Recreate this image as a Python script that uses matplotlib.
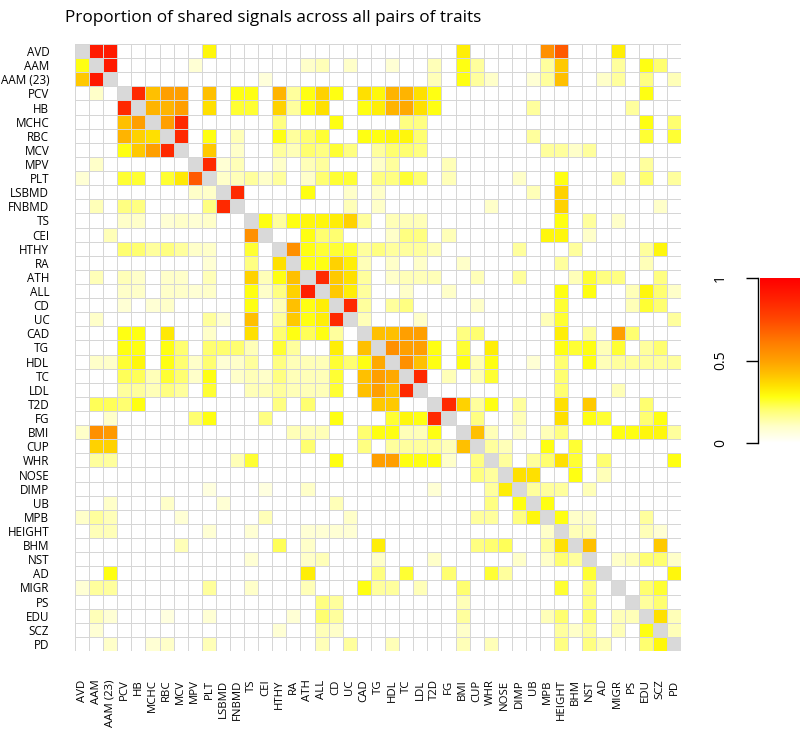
import numpy as np
import matplotlib
matplotlib.use("Agg")
import matplotlib.pyplot as plt
from matplotlib.colors import LinearSegmentedColormap

plt.rcParams["font.family"] = ["Open Sans", "DejaVu Sans"]

traits = ["AVD", "AAM", "AAM (23)", "PCV", "HB", "MCHC", "RBC", "MCV", "MPV", "PLT",
          "LSBMD", "FNBMD", "TS", "CEI", "HTHY", "RA", "ATH", "ALL", "CD", "UC",
          "CAD", "TG", "HDL", "TC", "LDL", "T2D", "FG", "BMI", "CUP", "WHR",
          "NOSE", "DIMP", "UB", "MPB", "HEIGHT", "BHM", "NST", "AD", "MIGR", "PS",
          "EDU", "SCZ", "PD"]

# non-zero proportions per row: {column index: value}
row_values = [
    {1:.9, 2:.9, 9:.3, 27:.32, 33:.55, 34:.7, 38:.32},
    {0:.28, 2:.9, 8:.08, 16:.1, 17:.12, 19:.1, 22:.08, 25:.12, 27:.28, 28:.15, 33:.15, 34:.4, 38:.15, 40:.28, 41:.2},
    {0:.4, 1:.9, 13:.07, 25:.12, 27:.28, 28:.15, 29:.1, 32:.08, 33:.15, 34:.42, 37:.1, 38:.15, 40:.18, 42:.12},
    {1:.1, 4:.85, 5:.42, 6:.5, 7:.5, 9:.42, 11:.28, 12:.28, 14:.45, 15:.15, 16:.28, 17:.38, 18:.28, 20:.35, 21:.3, 22:.45, 23:.45, 24:.35, 25:.28, 40:.28},
    {3:.85, 5:.45, 6:.45, 7:.5, 9:.35, 11:.25, 12:.25, 14:.38, 15:.15, 16:.28, 17:.35, 20:.28, 21:.32, 22:.45, 23:.48, 24:.35, 25:.28, 32:.15, 39:.15},
    {3:.42, 4:.5, 6:.5, 7:.85, 14:.18, 18:.28, 23:.18, 24:.18, 40:.28, 42:.2},
    {3:.45, 4:.38, 5:.35, 7:.85, 9:.28, 11:.12, 14:.28, 15:.15, 16:.2, 17:.25, 20:.28, 21:.28, 22:.3, 23:.3, 24:.2, 32:.15, 40:.25, 42:.25},
    {3:.28, 4:.4, 5:.5, 6:.85, 9:.4, 11:.1, 14:.15, 15:.12, 16:.2, 17:.18, 18:.25, 19:.18, 21:.15, 22:.2, 23:.2, 24:.18, 33:.15, 34:.15, 35:.1, 36:.15},
    {1:.1, 9:.85, 10:.08, 11:.12, 14:.1, 16:.12, 17:.15, 21:.1, 22:.15, 26:.12, 40:.15},
    {0:.08, 3:.25, 4:.25, 6:.25, 7:.33, 8:.7, 10:.1, 11:.12, 12:.15, 13:.1, 14:.15, 16:.1, 17:.2, 18:.25, 19:.25, 21:.18, 22:.18, 23:.25, 24:.2, 26:.12, 31:.1, 34:.28, 38:.15, 40:.2, 42:.15},
    {8:.1, 9:.1, 11:.85, 16:.28, 19:.1, 21:.1, 32:.12, 34:.38},
    {1:.12, 3:.18, 4:.18, 9:.18, 10:.85, 19:.12, 21:.1, 29:.1, 34:.38, 41:.1},
    {3:.1, 4:.1, 6:.08, 7:.1, 8:.08, 9:.1, 13:.28, 14:.15, 15:.28, 16:.3, 17:.3, 18:.32, 19:.38, 20:.15, 22:.12, 23:.12, 24:.12, 34:.28, 36:.15, 38:.1},
    {2:.12, 12:.55, 16:.28, 17:.2, 18:.2, 22:.1, 23:.18, 24:.18, 26:.12, 33:.3, 34:.3, 36:.1},
    {3:.2, 4:.2, 5:.15, 6:.18, 7:.15, 8:.1, 9:.1, 12:.25, 15:.55, 16:.28, 17:.25, 18:.25, 19:.25, 20:.15, 21:.18, 22:.15, 23:.15, 24:.15, 25:.12, 31:.15, 35:.15, 40:.15, 41:.3},
    {9:.08, 12:.18, 14:.35, 16:.28, 17:.28, 18:.38, 19:.32, 20:.12, 22:.1, 24:.1, 27:.1, 34:.15, 40:.12},
    {1:.12, 3:.12, 4:.1, 6:.1, 7:.1, 9:.12, 12:.38, 13:.12, 14:.28, 15:.42, 17:.85, 18:.4, 19:.35, 20:.15, 22:.1, 23:.12, 24:.12, 25:.12, 28:.12, 31:.15, 35:.12, 36:.25, 37:.18, 38:.18, 41:.18},
    {3:.1, 4:.1, 6:.1, 7:.1, 8:.08, 9:.1, 12:.28, 13:.1, 14:.18, 15:.38, 16:.88, 18:.4, 19:.32, 20:.15, 23:.1, 26:.1, 34:.28, 36:.28, 39:.12, 40:.3, 41:.2, 42:.1},
    {3:.08, 5:.08, 6:.1, 12:.28, 14:.12, 15:.42, 16:.28, 17:.32, 19:.85, 20:.15, 22:.15, 23:.18, 28:.1, 34:.25, 39:.12, 40:.25, 41:.2},
    {1:.1, 9:.15, 10:.08, 12:.42, 14:.15, 15:.4, 16:.28, 17:.32, 18:.85, 20:.12, 24:.1, 33:.12, 34:.25, 42:.15},
    {3:.28, 4:.28, 6:.33, 9:.1, 12:.35, 14:.2, 15:.28, 16:.22, 17:.28, 18:.15, 21:.42, 22:.42, 23:.5, 24:.5, 27:.18, 28:.2, 34:.32, 36:.15, 38:.5, 39:.2},
    {3:.28, 4:.28, 6:.28, 7:.2, 9:.2, 10:.2, 11:.2, 12:.12, 14:.25, 15:.15, 18:.32, 20:.42, 22:.55, 23:.5, 24:.5, 25:.28, 27:.25, 29:.32, 34:.28, 35:.25, 36:.28, 37:.12, 38:.25, 40:.15, 41:.2},
    {1:.1, 2:.1, 3:.25, 4:.3, 6:.28, 7:.2, 8:.1, 9:.2, 10:.08, 11:.1, 12:.15, 14:.18, 15:.12, 16:.12, 17:.12, 18:.25, 19:.2, 20:.28, 21:.48, 23:.55, 24:.42, 25:.28, 27:.28, 28:.12, 29:.28, 32:.08, 34:.2, 36:.28, 37:.12, 38:.15, 39:.15, 40:.15, 41:.15, 42:.15},
    {3:.22, 4:.22, 5:.12, 6:.25, 7:.2, 8:.1, 9:.28, 11:.1, 12:.12, 13:.1, 14:.18, 15:.12, 16:.12, 17:.12, 18:.25, 20:.42, 21:.5, 22:.48, 24:.85, 26:.12, 28:.12, 29:.25, 34:.2},
    {3:.15, 4:.15, 5:.12, 6:.18, 7:.15, 9:.25, 12:.12, 13:.12, 14:.15, 15:.12, 16:.12, 17:.12, 18:.25, 20:.42, 21:.5, 22:.42, 23:.85, 34:.2, 38:.12},
    {1:.22, 2:.22, 3:.2, 4:.28, 14:.18, 16:.2, 21:.4, 22:.4, 26:.85, 27:.38, 28:.15, 29:.28, 31:.15, 34:.35, 36:.4, 40:.2},
    {2:.1, 8:.2, 9:.28, 13:.18, 18:.28, 22:.25, 23:.3, 24:.28, 25:.85, 28:.18, 31:.12, 34:.35, 36:.28, 37:.25, 40:.2, 41:.28},
    {0:.1, 1:.55, 2:.52, 15:.12, 16:.12, 17:.12, 20:.2, 21:.28, 22:.28, 23:.12, 24:.12, 25:.28, 28:.42, 29:.12, 31:.1, 33:.12, 34:.18, 38:.28, 39:.28, 40:.3, 41:.3, 42:.15},
    {1:.38, 2:.38, 16:.2, 20:.18, 22:.15, 23:.15, 24:.15, 25:.15, 26:.12, 27:.42, 29:.15, 30:.12, 33:.28, 35:.25},
    {1:.15, 2:.15, 11:.12, 12:.25, 18:.28, 21:.5, 22:.5, 23:.28, 24:.28, 25:.28, 26:.1, 28:.18, 30:.15, 32:.15, 33:.2, 34:.35, 35:.25, 37:.2, 42:.28},
    {28:.18, 29:.15, 31:.35, 32:.35, 35:.28, 37:.12},
    {9:.06, 13:.06, 16:.1, 25:.08, 29:.15, 30:.32, 32:.15, 33:.15, 34:.15, 36:.12},
    {2:.1, 6:.1, 10:.08, 18:.12, 29:.18, 31:.28, 33:.28},
    {0:.1, 1:.15, 2:.12, 7:.08, 13:.12, 19:.1, 28:.15, 29:.15, 31:.18, 32:.3, 34:.28, 35:.1, 36:.1, 40:.15},
    {1:.12, 2:.12, 9:.08, 12:.08, 16:.08, 17:.08, 18:.08, 19:.08, 33:.1, 35:.12, 36:.12, 40:.12, 41:.08},
    {7:.12, 14:.22, 16:.1, 21:.32, 28:.18, 29:.2, 30:.22, 33:.15, 34:.35, 36:.42, 41:.4},
    {12:.08, 16:.1, 17:.12, 21:.1, 25:.1, 31:.1, 33:.1, 34:.2, 35:.15, 38:.1, 39:.12, 40:.2, 41:.2, 42:.1},
    {2:.28, 16:.32, 21:.18, 23:.25, 26:.2, 29:.25, 30:.15, 36:.25, 42:.3},
    {0:.08, 1:.15, 2:.15, 9:.15, 12:.1, 16:.12, 20:.28, 21:.15, 22:.15, 24:.12, 27:.2, 34:.25, 36:.18, 40:.2, 41:.25},
    {17:.18, 18:.15, 27:.12, 36:.18, 40:.15, 41:.2},
    {1:.12, 2:.08, 6:.06, 9:.08, 15:.08, 17:.2, 18:.15, 27:.15, 33:.12, 34:.2, 36:.2, 38:.12, 39:.12, 41:.35, 42:.12},
    {1:.08, 14:.08, 17:.12, 18:.1, 27:.1, 34:.15, 35:.1, 36:.15, 38:.12, 40:.28, 42:.12},
    {2:.1, 5:.08, 6:.1, 9:.12, 17:.12, 19:.15, 22:.12, 27:.12, 29:.12, 34:.18, 36:.18, 37:.12, 40:.2, 41:.3},
]

colorbar_ticks = [0, 0.5, 1]
colorbar_labels = ["0", "0.5", "1"]
title = "Proportion of shared signals across all pairs of traits"

n = len(traits)
M = np.zeros((n, n))
for i, d in enumerate(row_values):
    for j, v in d.items():
        M[i, j] = v
np.fill_diagonal(M, np.nan)
Mm = np.ma.masked_invalid(M)

cmap = LinearSegmentedColormap.from_list("heat", [
    (0.0, "#FFFFFF"), (0.1, "#FFFFC8"), (0.2, "#FFFF70"), (0.28, "#FFFF10"),
    (0.35, "#FFE000"), (0.42, "#FFC000"), (0.5, "#FFA000"), (0.6, "#FF8000"),
    (0.75, "#FF4800"), (0.88, "#FF2000"), (1.0, "#FF0000")])
cmap.set_bad("#D9D9D9")

fig = plt.figure(figsize=(8, 7.3), dpi=100)
W, H = 800, 730
ax = fig.add_axes([75 / W, 1 - 651 / H, 606 / W, 607 / H])
ax.pcolormesh(np.arange(n + 1), np.arange(n + 1), Mm, cmap=cmap, vmin=0, vmax=1,
              edgecolors="#D6D6D6", linewidth=0.7)
ax.set_xlim(0, n)
ax.set_ylim(n, 0)
ax.set_xticks(np.arange(n) + 0.5)
ax.set_xticklabels(traits, rotation=90, fontsize=8.2)
ax.set_yticks(np.arange(n) + 0.5)
ax.set_yticklabels(traits, fontsize=8.4)
ax.tick_params(axis="x", length=0, pad=20.5)
ax.tick_params(axis="y", length=0, pad=18.5)
for s in ax.spines.values():
    s.set_visible(False)

fig.text(65 / W, 1 - 22 / H, title, fontsize=12.3, ha="left", va="baseline")

cax = fig.add_axes([760 / W, 1 - 443 / H, 40 / W, 165 / H])
grad = np.linspace(0, 1, 256).reshape(-1, 1)
cax.imshow(grad, aspect="auto", cmap=cmap, vmin=0, vmax=1, origin="lower",
           extent=[0, 1, 0, 1])
cax.set_xlim(0, 1)
cax.set_ylim(0, 1)
cax.set_xticks([])
cax.set_yticks(colorbar_ticks)
cax.set_yticklabels(colorbar_labels, fontsize=11.5)
for k in ["top", "right", "bottom"]:
    cax.spines[k].set_visible(False)
cax.spines["left"].set_position(("outward", 1.5))
cax.spines["left"].set_linewidth(1.0)
cax.tick_params(axis="y", length=8.5, width=1.0, pad=13, labelrotation=90)
for lab in cax.get_yticklabels():
    lab.set_verticalalignment("center")

fig.savefig("out.png", dpi=100)
